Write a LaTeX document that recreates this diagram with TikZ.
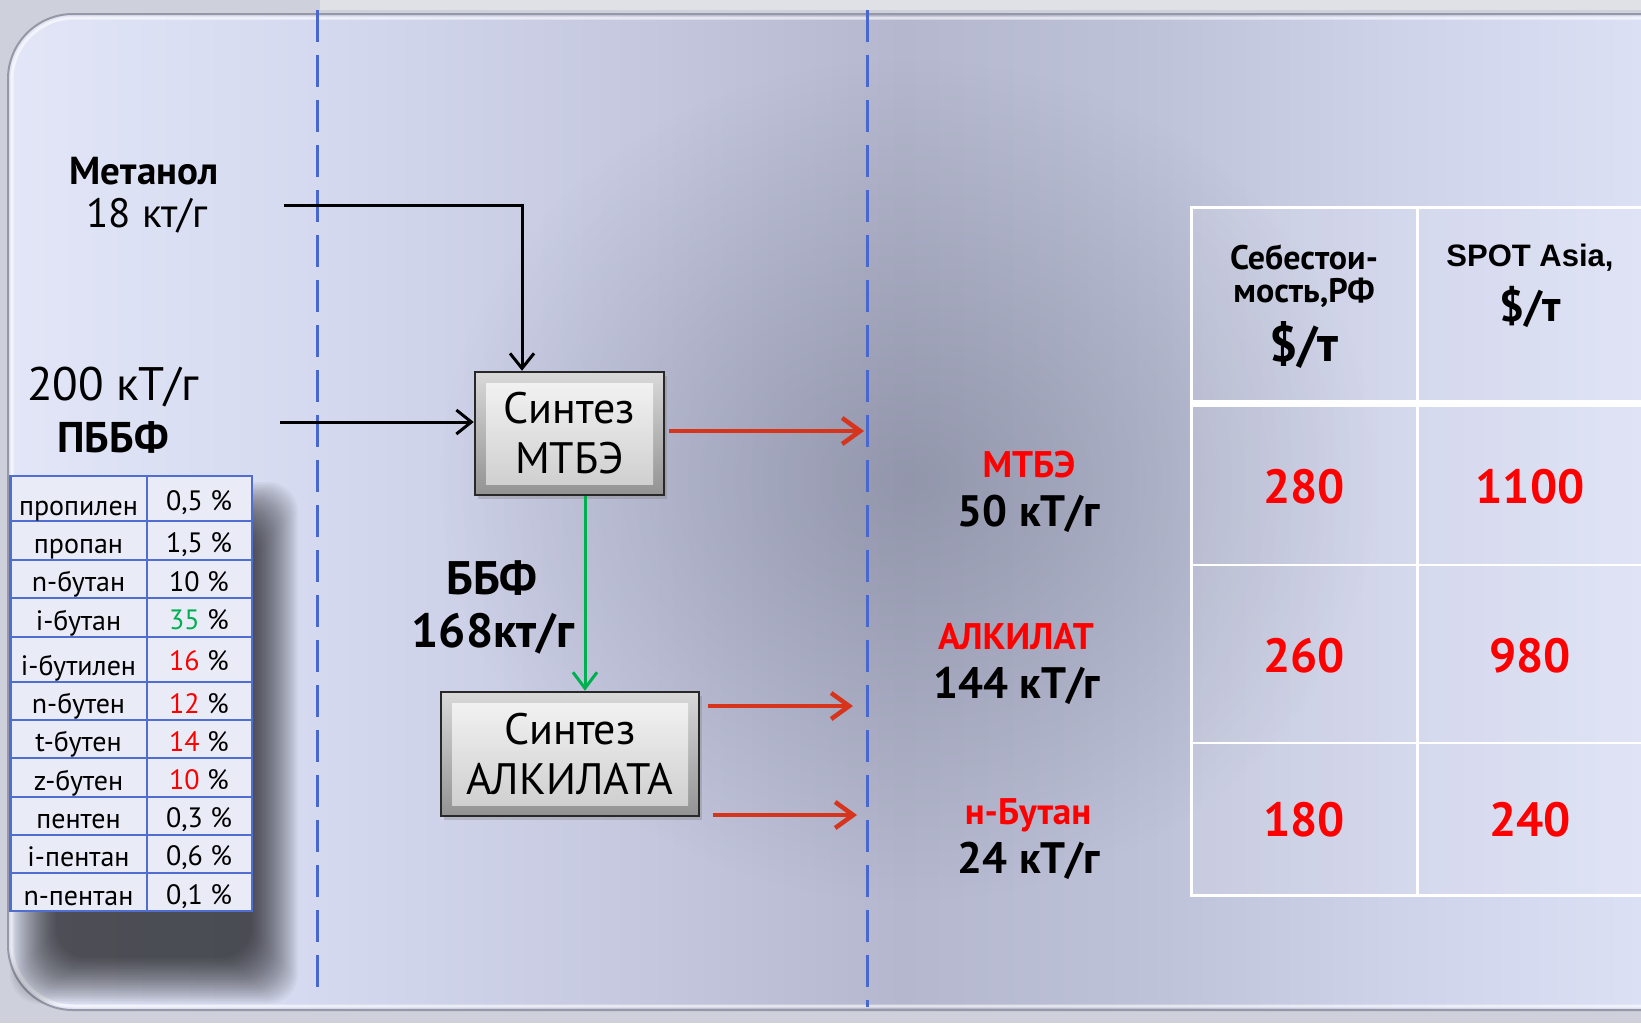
\documentclass[tikz,border=0pt]{standalone}
\usepackage{fontspec}
\setmainfont{PT Sans}
\newfontfamily\arialf{Liberation Sans}
\usetikzlibrary{arrows.meta,fadings,shadows}
\definecolor{frameg}{RGB}{206,209,219}
\definecolor{pA}{RGB}{226,230,247}
\definecolor{pB}{RGB}{214,218,240}
\definecolor{pC}{RGB}{196,199,222}
\definecolor{pD}{RGB}{180,183,205}
\definecolor{pE}{RGB}{190,194,216}
\definecolor{pF}{RGB}{207,211,234}
\definecolor{pG}{RGB}{220,224,245}
\definecolor{spotc}{RGB}{105,109,130}
\definecolor{panelborder}{RGB}{150,152,165}
\definecolor{dashblue}{RGB}{72,104,206}
\definecolor{tblue}{RGB}{80,110,208}
\definecolor{cellfill}{RGB}{233,235,247}
\definecolor{redtxt}{RGB}{255,0,0}
\definecolor{greentxt}{RGB}{0,176,80}
\definecolor{arrred}{RGB}{214,52,28}
\definecolor{boxedge}{RGB}{40,40,40}
\pgfdeclarehorizontalshading{panelshade}{100bp}{color(0bp)=(pA); color(25bp)=(pA); color(33.3bp)=(pB); color(43.3bp)=(pC); color(50.5bp)=(pD); color(57.6bp)=(pE); color(64.7bp)=(pF); color(71.6bp)=(pG); color(100bp)=(pG)}
\tikzfading[name=spotfade, inner color=transparent!55, outer color=transparent!100]
\newcommand\fsz[1]{\fontsize{#1}{#1}\selectfont}
\tikzset{
  x=1pt, y=-1pt,
  dashline/.style={dashblue, line width=3pt, dash pattern=on 32pt off 13pt},
  blackarrow/.style={black, line width=3pt, -{Straight Barb[length=15pt,width=24pt]}},
  greenarrow/.style={greentxt, line width=3pt, -{Straight Barb[length=16pt,width=24pt]}},
  redarrow/.style={arrred, line width=4.5pt, -{Straight Barb[length=18pt,width=26pt]}},
  procbox/.style={draw=boxedge, line width=2.5pt, inner sep=0pt, align=center,
     font=\fontsize{44}{50}\selectfont, top color=gray!30, bottom color=gray!85,
     drop shadow={shadow xshift=3pt, shadow yshift=-4pt, opacity=0.35},
     path picture={\shade[top color=gray!8, bottom color=gray!40]
        ([xshift=11pt,yshift=-11pt]path picture bounding box.north west) rectangle
        ([xshift=-11pt,yshift=11pt]path picture bounding box.south east);}},
  lbl/.style={inner sep=0pt, anchor=center},
  tcell/.style={inner sep=0pt, anchor=base, font=\fsz{28}},
  tnum/.style={inner sep=0pt, anchor=center, font=\bfseries\fsz{48}, text=redtxt},
  outname/.style={inner sep=0pt, anchor=center, font=\bfseries\fsz{37}, text=redtxt},
  outrate/.style={inner sep=0pt, anchor=center, font=\bfseries\fsz{44}},
}
\begin{document}
\begin{tikzpicture}
\useasboundingbox (0,0) rectangle (1641,1023);
\clip (0,0) rectangle (1641,1023);
% background frame and panel
\fill[frameg] (0,0) rectangle (1641,1023);
\fill[white, opacity=0.35] (320,0) rectangle (1641,10);
\fill[shading=panelshade, rounded corners=65pt] (8,14) rectangle (1760,1010);
\fill[spotc, path fading=spotfade] (910,480) ellipse [x radius=470, y radius=420];
\draw[white, opacity=0.6, line width=3pt, rounded corners=62pt] (12,18) rectangle (1756,1006);
\draw[panelborder, line width=2pt, rounded corners=65pt] (8,14) rectangle (1760,1010);
% shadow of composition table
\foreach \k in {0,...,29}
  \fill[black, opacity=0.032, rounded corners=30pt] (10+1.6*\k,482+1.6*\k) rectangle (298-1.6*\k,1004-1.6*\k);
% dashed dividers
\draw[dashline] (317,10) -- (317,998);
\draw[dashline] (867,10) -- (867,1007);
% composition table
\fill[cellfill] (10.5,476) rectangle (252,911);
\foreach \yy in {521,560,598,637,682,720,758,797,835,873}
  \draw[tblue, line width=2pt] (10.5,\yy) -- (252,\yy);
\draw[tblue, line width=2pt] (146.5,476) -- (146.5,911);
\draw[tblue, line width=2.5pt] (10.5,476) rectangle (252,911);
\foreach \i/\lb/\rbs/\nm/\vl in {
 1/515/510/пропилен/{0,5},
 2/553/552/пропан/{1,5},
 3/591.5/591/n-бутан/10,
 4/630/629/i-бутан/{\textcolor{greentxt}{35}},
 5/675/670/i-бутилен/{\textcolor{redtxt}{16}},
 6/713/713/n-бутен/{\textcolor{redtxt}{12}},
 7/751.5/751/t-бутен/{\textcolor{redtxt}{14}},
 8/790/789/z-бутен/{\textcolor{redtxt}{10}},
 9/828/827/пентен/{0,3},
 10/866.5/865.5/i-пентан/{0,6},
 11/905/904/n-пентан/{0,1}}
{
 \node[tcell] (cn\i) at (78.5,\lb) {\nm};
 \node[tcell] (cv\i) at (199,\rbs) {\vl\ \%};
}
% price table
\fill[white, opacity=0.12] (1191,207) rectangle (1660,895);
\draw[white, line width=3pt] (1660,207) -- (1191,207) -- (1191,895) -- (1660,895);
\draw[white, line width=3pt] (1417,207) -- (1417,895);
\draw[white, line width=2.5pt] (1191,565) -- (1660,565) (1191,743) -- (1660,743);
\draw[white, line width=7pt] (1191,403) -- (1660,403);
\node[lbl, font=\bfseries\fsz{34}] (h1a) at (1304,257) {Себестои-};
\node[lbl, font=\bfseries\fsz{34}] (h1b) at (1304,293) {мость,РФ};
\node[lbl, font=\bfseries\fsz{50}] (h1c) at (1304,345) {\$/т};
\node[lbl, font=\arialf\bfseries\fsz{31}] (h2a) at (1530,258) {SPOT Asia,};
\node[lbl, font=\bfseries\fsz{44}] (h2b) at (1530,307) {\$/т};
\node[tnum] (v11) at (1304,487) {280};
\node[tnum] (v12) at (1530,487) {1100};
\node[tnum] (v21) at (1304,656) {260};
\node[tnum] (v22) at (1530,656) {980};
\node[tnum] (v31) at (1304,820) {180};
\node[tnum] (v32) at (1530,820) {240};
% input labels
\node[lbl, font=\bfseries\fsz{39}] (metname) at (144,171) {Метанол};
\node[lbl, font=\fsz{41}] (metrate) at (147,216) {18 кт/г};
\node[lbl, font=\fsz{47}] (pbbfrate) at (113,387) {200 кТ/г};
\node[lbl, font=\bfseries\fsz{43}] (pbbf) at (113,437) {ПББФ};
\node[lbl, font=\bfseries\fsz{47}] (bbf) at (492,578) {ББФ};
\node[lbl, font=\bfseries\fsz{48}] (bbfrate) at (493,634) {168кт/г};
% process boxes
\node[procbox, minimum width=189pt, minimum height=123pt] (mtbe) at (569.5,433.5) {Синтез\\МТБЭ};
\node[procbox, minimum width=258pt, minimum height=124pt] (alk) at (570,754) {Синтез\\АЛКИЛАТА};
% output labels
\node[outname] (o1n) at (1029,465) {МТБЭ};
\node[outrate] (o1r) at (1029,514) {50 кТ/г};
\node[outname] (o2n) at (1016,637) {АЛКИЛАТ};
\node[outrate] (o2r) at (1017,686) {144 кТ/г};
\node[outname] (o3n) at (1028,815) {н-Бутан};
\node[outrate] (o3r) at (1029,861) {24 кТ/г};
% connectors
\coordinate (ms) at (284,205);
\draw[blackarrow] (ms) -| ([xshift=-47.5pt]mtbe.north);
\coordinate (ps) at (280,422);
\draw[blackarrow] (ps) -- (ps -| mtbe.west);
\draw[greenarrow] ([xshift=15.5pt]mtbe.south) -- ([xshift=15.5pt]mtbe.south |- alk.north);
\coordinate (r1) at (864,431);
\coordinate (r2) at (853,706);
\coordinate (r3) at (857,815);
\draw[redarrow] ([xshift=4pt,yshift=2.5pt]mtbe.east) -- (r1);
\draw[redarrow] ([xshift=8pt,yshift=48pt]alk.east) -- (r2);
\draw[redarrow] ([xshift=13pt,yshift=-61pt]alk.east) -- (r3);
\end{tikzpicture}
\end{document}
